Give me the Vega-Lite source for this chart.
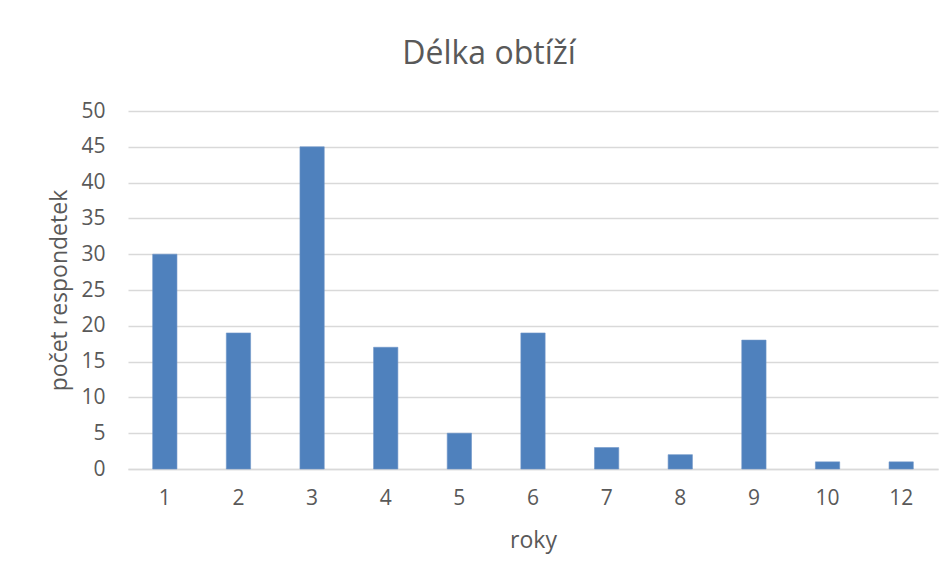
{
  "$schema": "https://vega.github.io/schema/vega-lite/v6.json",
  "autosize": {"type": "none"},
  "width": 810,
  "height": 358,
  "padding": {"left": 128, "top": 111, "right": 14, "bottom": 113},
  "background": "white",
  "title": {
    "text": "Délka obtíží",
    "font": "Open Sans",
    "fontSize": 32,
    "fontWeight": "normal",
    "color": "#595959",
    "anchor": "middle",
    "dx": -44,
    "offset": 29
  },
  "data": {
    "values": [
      {"roky": "1", "pocet": 30},
      {"roky": "2", "pocet": 19},
      {"roky": "3", "pocet": 45},
      {"roky": "4", "pocet": 17},
      {"roky": "5", "pocet": 5},
      {"roky": "6", "pocet": 19},
      {"roky": "7", "pocet": 3},
      {"roky": "8", "pocet": 2},
      {"roky": "9", "pocet": 18},
      {"roky": "10", "pocet": 1},
      {"roky": "12", "pocet": 1}
    ]
  },
  "mark": {"type": "bar", "color": "#4f81bd", "stroke": "#6f96c8", "strokeWidth": 0.6},
  "encoding": {
    "x": {
      "field": "roky",
      "type": "ordinal",
      "sort": null,
      "scale": {"paddingInner": 0.67, "paddingOuter": 0.335},
      "axis": {
        "title": "roky",
        "labelAngle": 0,
        "ticks": false,
        "domainColor": "#d9d9d9",
        "domainWidth": 1.3,
        "labelPadding": 18,
        "titlePadding": 21
      }
    },
    "y": {
      "field": "pocet",
      "type": "quantitative",
      "scale": {"domain": [0, 50]},
      "axis": {
        "title": "počet respondetek",
        "values": [0, 5, 10, 15, 20, 25, 30, 35, 40, 45, 50],
        "ticks": false,
        "domain": false,
        "gridColor": "#d9d9d9",
        "gridWidth": 1.3,
        "labelPadding": 23,
        "titlePadding": 9
      }
    }
  },
  "config": {
    "view": {"stroke": null},
    "axis": {
      "labelFont": "Open Sans",
      "labelFontSize": 21,
      "labelColor": "#595959",
      "titleFont": "Open Sans",
      "titleFontSize": 23,
      "titleFontWeight": "normal",
      "titleColor": "#595959"
    }
  }
}
